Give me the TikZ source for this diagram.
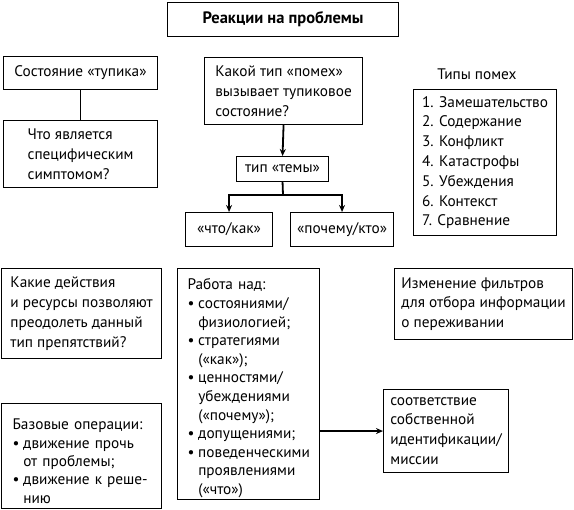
\documentclass[tikz,border=0pt]{standalone}
\usepackage{fontspec}
\setmainfont{PT Sans}
\usetikzlibrary{arrows.meta}
\newcommand\bl{\makebox[0.7em][l]{•}}
\newcommand\ii{\hspace*{0.7em}}
\begin{document}
\begin{tikzpicture}[x=1pt,y=-1pt,
  box/.style={draw, line width=1.1pt, anchor=north west, align=left, inner sep=0pt,
    font=\fontsize{15.3}{19.8}\selectfont},
  cbox/.style={box, align=center},
  conn/.style={line width=1.8pt},
  arr/.style={conn, -{Stealth[length=7pt,width=6pt]}}]
\useasboundingbox (0,0) rectangle (574,510);
\node[cbox, minimum width=231, minimum height=34, font=\fontsize{16.5}{19}\selectfont\bfseries] (title) at (167,2) {Реакции на проблемы};
\node[cbox, minimum width=154, minimum height=33] (state) at (3,56) {Состояние «тупика»};
\node[box, minimum width=154, minimum height=67] (symptom) at (3,120) {Что является\\специфическим\\симптомом?};
\node[box, minimum width=158, minimum height=67] (question) at (204,57) {Какой тип «помех»\\вызывает тупиковое\\состояние?};
\node[cbox, minimum width=92, minimum height=25] (theme) at (236,156) {тип «темы»};
\node[cbox, minimum width=87, minimum height=34] (what) at (185,212) {«что/как»};
\node[cbox, minimum width=103, minimum height=34] (why) at (290,212) {«почему/кто»};
\node[font=\fontsize{15.3}{19.8}\selectfont, inner sep=0pt] (typlabel) at (477,74) {Типы помех};
\node[box, minimum width=143, minimum height=146] (list) at (413,89) {1. Замешательство\\2. Содержание\\3. Конфликт\\4. Катастрофы\\5. Убеждения\\6. Контекст\\7. Сравнение};
\node[box, minimum width=160, minimum height=90] (actions) at (1,268) {Какие действия\\и ресурсы позволяют\\преодолеть данный\\тип препятствий?};
\node[box, minimum width=160, minimum height=105, text width=138, font=\fontsize{15.3}{18.3}\selectfont] (basic) at (1,403) {\mbox{\rule{0pt}{21pt}Базовые операции:}\\\mbox{\bl движение прочь}\\\mbox{\ii от проблемы;}\\\mbox{\bl движение к реше-}\\\mbox{\ii нию}};
\node[box, minimum width=142, minimum height=231, text width=122, font=\fontsize{15.3}{18.6}\selectfont] (work) at (177,268) {\mbox{\rule{0pt}{19.5pt}Работа над:}\\\mbox{\bl состояниями/}\\\mbox{\ii физиологией;}\\\mbox{\bl стратегиями}\\\mbox{\ii («как»);}\\\mbox{\bl ценностями/}\\\mbox{\ii убеждениями}\\\mbox{\ii («почему»);}\\\mbox{\bl допущениями;}\\\mbox{\bl поведенческими}\\\mbox{\ii проявлениями}\\\mbox{\ii («что»)}};
\node[box, minimum width=178, minimum height=71] (change) at (394,268) {Изменение фильтров\\для отбора информации\\о переживании};
\node[box, minimum width=125, minimum height=83] (match) at (383,389) {соответствие\\собственной\\идентификации/\\миссии};
\draw[conn] (state.south) -- (symptom.north);
\draw[arr] (question.south) -- (theme.north);
\coordinate (j) at (283,195);
\draw[conn] (theme.south) -- (j);
\draw[arr] (j) -| (what.north);
\draw[arr] (j) -| (why.north);
\draw[arr] (match.west -| work.east) -- (match.west);
\end{tikzpicture}
\end{document}
